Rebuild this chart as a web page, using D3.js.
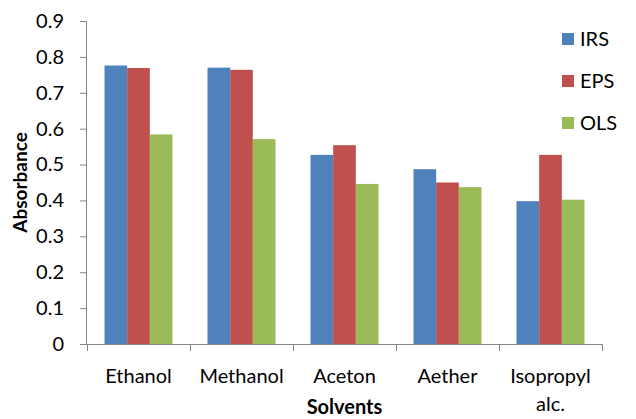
<!DOCTYPE html>
<html><head><meta charset="utf-8">
<script src="https://cdn.jsdelivr.net/npm/d3@7"></script>
<style>body{margin:0;background:#fff}svg{display:block}</style>
</head><body>
<script>
const categories = ["Ethanol", "Methanol", "Aceton", "Aether", "Isopropyl alc."];
const seriesNames = ["IRS", "EPS", "OLS"];
const IRS = [0.776, 0.770, 0.527, 0.487, 0.398];
const EPS = [0.769, 0.764, 0.554, 0.450, 0.527];
const OLS = [0.584, 0.571, 0.446, 0.437, 0.402];
const yTicks = [0, 0.1, 0.2, 0.3, 0.4, 0.5, 0.6, 0.7, 0.8, 0.9];
const colors = ["#4F81BD", "#C0504D", "#9BBB59"];
const seriesValues = [IRS, EPS, OLS];

const W = 636, H = 419;
const font = "Lato, 'Open Sans', sans-serif";
const svg = d3.select("body").append("svg").attr("width", W).attr("height", H);

const x0 = 87, x1 = 602, yTop = 21, yBot = 344;
const x = d3.scaleBand().domain(categories).range([x0, x1]).paddingInner(0.34).paddingOuter(0.17);
const xs = d3.scaleBand().domain(seriesNames).range([0, x.bandwidth()]);
const y = d3.scaleLinear().domain([0, 0.9]).range([yBot, yTop]);

// bars
seriesNames.forEach((s, si) => {
  svg.append("g").selectAll("rect").data(categories).join("rect")
    .attr("x", c => x(c) + xs(s))
    .attr("width", xs.bandwidth())
    .attr("y", (c, i) => y(seriesValues[si][i]))
    .attr("height", (c, i) => y(0) - y(seriesValues[si][i]))
    .attr("fill", colors[si]);
});

// y axis
const ya = svg.append("g").attr("transform", `translate(${x0},0)`)
  .call(d3.axisLeft(y).tickValues(yTicks).tickFormat(d => d === 0 ? "0" : d3.format(".1f")(d)).tickSize(7).tickPadding(16));
ya.select(".domain").attr("stroke", "#868686").attr("d", `M-0.5,${yTop}V${yBot}`);
ya.selectAll(".tick line").attr("stroke", "#868686");
ya.selectAll(".tick text").attr("font-family", font).attr("font-size", 20).attr("fill", "#000");

// x axis with boundary ticks
const xa = svg.append("g").attr("transform", `translate(0,${yBot})`);
xa.append("line").attr("x1", x0).attr("x2", x1).attr("y1", 0.5).attr("y2", 0.5).attr("stroke", "#868686");
const bounds = categories.map(c => x(c) - x.step() * x.paddingInner() / 2).concat([x1]);
bounds[0] = x0;
xa.selectAll("line.tk").data(bounds).join("line").attr("class", "tk")
  .attr("x1", d => Math.round(d) + 0.5).attr("x2", d => Math.round(d) + 0.5)
  .attr("y1", 0).attr("y2", 7).attr("stroke", "#868686");
xa.selectAll("text.cat").data(categories).join("text").attr("class", "cat")
  .attr("font-family", font).attr("font-size", 20).attr("text-anchor", "middle")
  .attr("x", c => x(c) + x.bandwidth() / 2)
  .attr("y", 39)
  .each(function(c) {
    const parts = c === "Isopropyl alc." ? ["Isopropyl", "alc."] : [c];
    const t = d3.select(this);
    parts.forEach((p, i) => t.append("tspan").attr("x", x(c) + x.bandwidth() / 2).attr("dy", i ? 28 : 0).text(p));
  });

// axis titles
svg.append("text").attr("x", (x0 + x1) / 2).attr("y", 414).attr("text-anchor", "middle")
  .attr("font-family", font).attr("font-size", 20).attr("font-weight", "bold").text("Solvents");
svg.append("text").attr("transform", `translate(27,${(yTop + yBot) / 2}) rotate(-90)`).attr("text-anchor", "middle")
  .attr("font-family", font).attr("font-size", 19).attr("font-weight", "bold").text("Absorbance");

// legend
const lg = svg.append("g").attr("transform", "translate(562,33)");
seriesNames.forEach((s, i) => {
  const g = lg.append("g").attr("transform", `translate(0,${i * 42})`);
  g.append("rect").attr("width", 12).attr("height", 12).attr("fill", colors[i]);
  g.append("text").attr("x", 18).attr("y", 13).attr("font-family", font).attr("font-size", 20).text(s);
});
</script>
</body></html>
